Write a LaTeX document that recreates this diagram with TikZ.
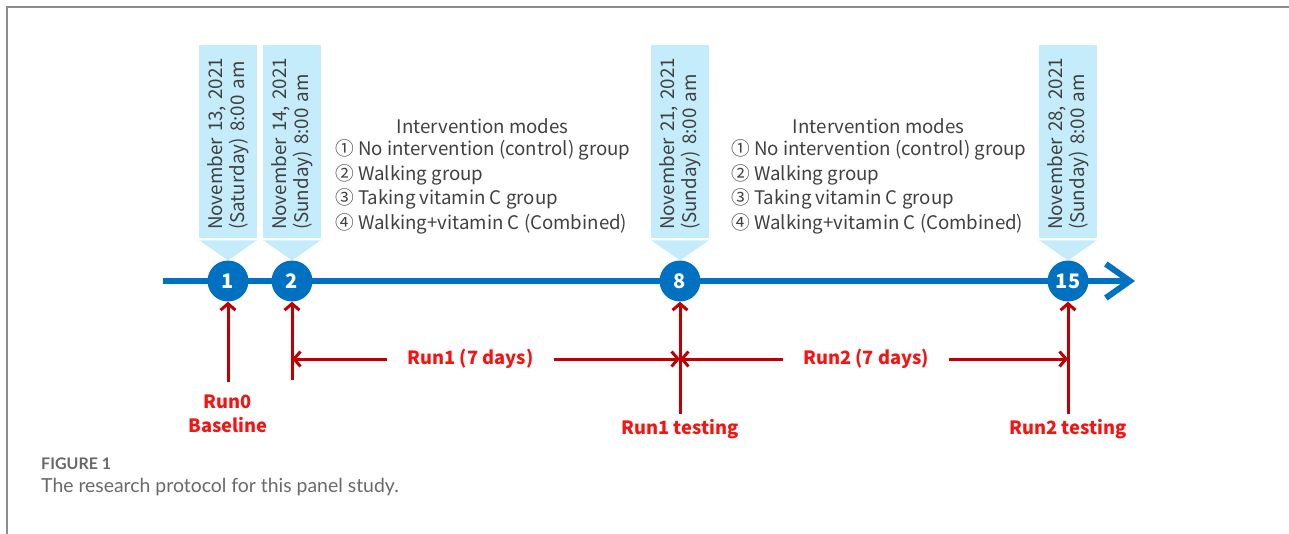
\documentclass[tikz,border=0pt]{standalone}
\usepackage{fontspec}
\setmainfont{Noto Sans CJK SC}
\newfontfamily\capfont{Lato}
\usepackage{xcolor}
\usetikzlibrary{arrows.meta, positioning, calc}

\definecolor{tlblue}{RGB}{0,112,192}
\definecolor{datecyan}{RGB}{196,236,250}
\definecolor{rundark}{RGB}{192,0,0}
\definecolor{runred}{RGB}{245,20,20}
\definecolor{textgray}{RGB}{64,64,64}
\definecolor{framegray}{RGB}{140,140,140}
\definecolor{capgray}{RGB}{105,105,105}

\begin{document}
\begin{tikzpicture}[x=1pt, y=-1pt,
  day/.style={circle, fill=tlblue, minimum size=41pt, inner sep=0pt, text=white, font=\fontsize{20}{20}\selectfont\bfseries},
  datebox/.style={rotate=90, fill=datecyan, minimum width=193pt, minimum height=58pt, text width=177pt, inner xsep=8pt, align=left, text=textgray, font=\fontsize{18.8}{22.5}\selectfont},
  modes/.style={align=left, text=textgray, font=\fontsize{18.7}{24.7}\selectfont, inner sep=0pt},
  runline/.style={draw=rundark, line width=3pt, -{Straight Barb[length=6.5pt,width=15pt]}},
  runlabel/.style={text=runred, align=center, font=\fontsize{18.3}{24}\selectfont\bfseries, inner xsep=20pt, inner ysep=0pt},
]
\useasboundingbox (0,0) rectangle (1289,534);
\draw[framegray, line width=1.5pt] (7,534) -- (7,7) -- (1289,7);

% time axis
\coordinate (axisstart) at (163,281);
\coordinate (axisend) at (1135,281);
\draw[tlblue, line width=6pt, -{Straight Barb[length=24pt,width=34pt]}] (axisstart) -- (axisend);

\node[day] (t1) at (228,281) {1};
\node[day] (t2) at (292,281) {2};
\node[day] (t8) at (680,281) {8};
\node[day] (t15) at (1068,281) {15};

% date tags
\node[datebox] (d1) at (228,141.5) {November 13, 2021\\(Saturday) 8:00 am};
\node[datebox] (d2) at (292,141.5) {November 14, 2021\\(Sunday) 8:00 am};
\node[datebox] (d8) at (680,141.5) {November 21, 2021\\(Sunday) 8:00 am};
\node[datebox] (d15) at (1068,141.5) {November 28, 2021\\(Sunday) 8:00 am};

\fill[datecyan] ($(t1.north)+(-29,-20)$) -- ($(t1.north)+(29,-20)$) -- (t1.north) -- cycle;
\fill[datecyan] ($(t2.north)+(-29,-20)$) -- ($(t2.north)+(29,-20)$) -- (t2.north) -- cycle;
\fill[datecyan] ($(t8.north)+(-29,-20)$) -- ($(t8.north)+(29,-20)$) -- (t8.north) -- cycle;
\fill[datecyan] ($(t15.north)+(-29,-20)$) -- ($(t15.north)+(29,-20)$) -- (t15.north) -- cycle;

% intervention modes
\node[modes, anchor=west] (m1) at (335,187) {① No intervention (control) group\\② Walking group\\③ Taking vitamin C group\\④ Walking+vitamin C (Combined)};
\node[modes, above=6pt of m1] (h1) {Intervention modes};
\node[modes, anchor=west] (m2) at (731,187) {① No intervention (control) group\\② Walking group\\③ Taking vitamin C group\\④ Walking+vitamin C (Combined)};
\node[modes, above=6pt of m2] (h2) {Intervention modes};

% runs
\coordinate (b1) at (228,382);
\coordinate (b2) at (292,380);
\coordinate (b8) at (680,414);
\coordinate (b15) at (1068,414);
\draw[runline] (b1) -- (t1);
\draw[runline] (b2) -- (t2);
\draw[runline] (b8) -- (t8);
\draw[runline] (b15) -- (t15);

\node[runlabel, below=13pt of b1] (l0) {Run0\\Baseline};
\node[runlabel, below=5pt of b8] (l1) {Run1 testing};
\node[runlabel, below=5pt of b15] (l2) {Run2 testing};

\node[runlabel] (r1) at (470.5,359) {Run1 (7 days)};
\node[runlabel] (r2) at (866,359) {Run2 (7 days)};
\draw[runline] (r1.west) -- (r1.west -| t2);
\draw[runline] (r1.east) -- (r1.east -| t8);
\draw[runline] (r2.west) -- (r2.west -| t8);
\draw[runline] (r2.east) -- (r2.east -| t15);

% caption
\node[anchor=west, inner sep=0pt, text=capgray, font=\capfont\bfseries\fontsize{16}{16}\selectfont] (fig) at (41,464) {FIGURE 1};
\node[anchor=west, inner sep=0pt, text=capgray, font=\capfont\fontsize{19.4}{22}\selectfont] (cap) at (41,487) {The research protocol for this panel study.};
\end{tikzpicture}
\end{document}
